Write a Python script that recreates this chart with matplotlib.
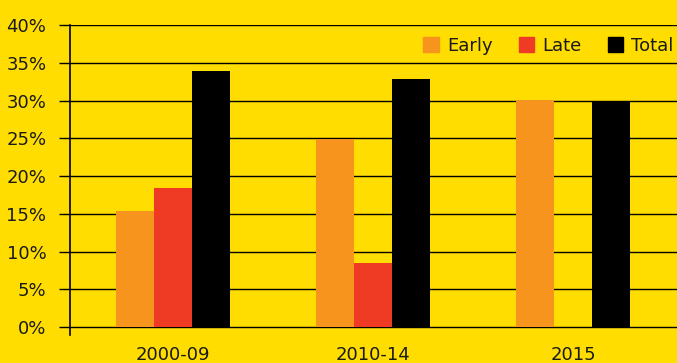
import matplotlib
matplotlib.use("Agg")
import matplotlib.pyplot as plt
import numpy as np
from matplotlib.patches import Patch

categories = ["2000-09", "2010-14", "2015"]
early = [15.4, 24.9, 30.1]
late = [18.4, 8.5, 0.0]
total = [33.9, 32.8, 30.0]
yticks = [0, 5, 10, 15, 20, 25, 30, 35, 40]

bg = "#FFDD00"
c_early = "#F7941D"
c_late = "#EF3B24"
c_total = "#000000"

plt.rcParams['font.family'] = ['DejaVu Sans']

W, H = 677, 363
fig = plt.figure(figsize=(W / 100, H / 100), dpi=100, facecolor=bg)
ax = fig.add_axes([70 / W, (H - 335) / H, (W - 70) / W, (335 - 25) / H])
ax.set_facecolor(bg)

x = np.arange(len(categories))
w = 0.19
ax.bar(x - w, early, w, color=c_early, zorder=3)
ax.bar(x, late, w, color=c_late, zorder=3)
ax.bar(x + w, total, w, color=c_total, zorder=3)

fs = 13
ax.set_xlim(-0.515, 2.52)
ax.set_ylim(-1.05, 40)
ax.set_yticks(yticks)
ax.set_yticklabels([f"{v}%" for v in yticks], fontsize=fs, color="#1a1a1a")
ax.set_xticks(x)
ax.set_xticklabels(categories, fontsize=fs, color="#1a1a1a")
ax.tick_params(axis='x', length=0, pad=8)
ax.tick_params(axis='y', length=8, width=1, direction='out', pad=9, color='black')
for v in yticks:
    ax.axhline(v, color='black', lw=1, zorder=1)
for s in ['top', 'right', 'bottom']:
    ax.spines[s].set_visible(False)
ax.spines['left'].set_color('black')
ax.spines['left'].set_linewidth(1.2)

handles = [Patch(color=c_early, label="Early"), Patch(color=c_late, label="Late"), Patch(color=c_total, label="Total")]
leg = fig.legend(handles=handles, loc='upper right', bbox_to_anchor=(1.0, 1 - 33 / H), ncol=3,
                 frameon=True, facecolor=bg, edgecolor=bg, framealpha=1, fontsize=fs,
                 handlelength=0.85, handleheight=0.85, handletextpad=0.45, columnspacing=1.45,
                 borderpad=0.15, borderaxespad=0.05)
for t in leg.get_texts():
    t.set_color("#1a1a1a")

fig.savefig("out.png", dpi=100, facecolor=bg)
